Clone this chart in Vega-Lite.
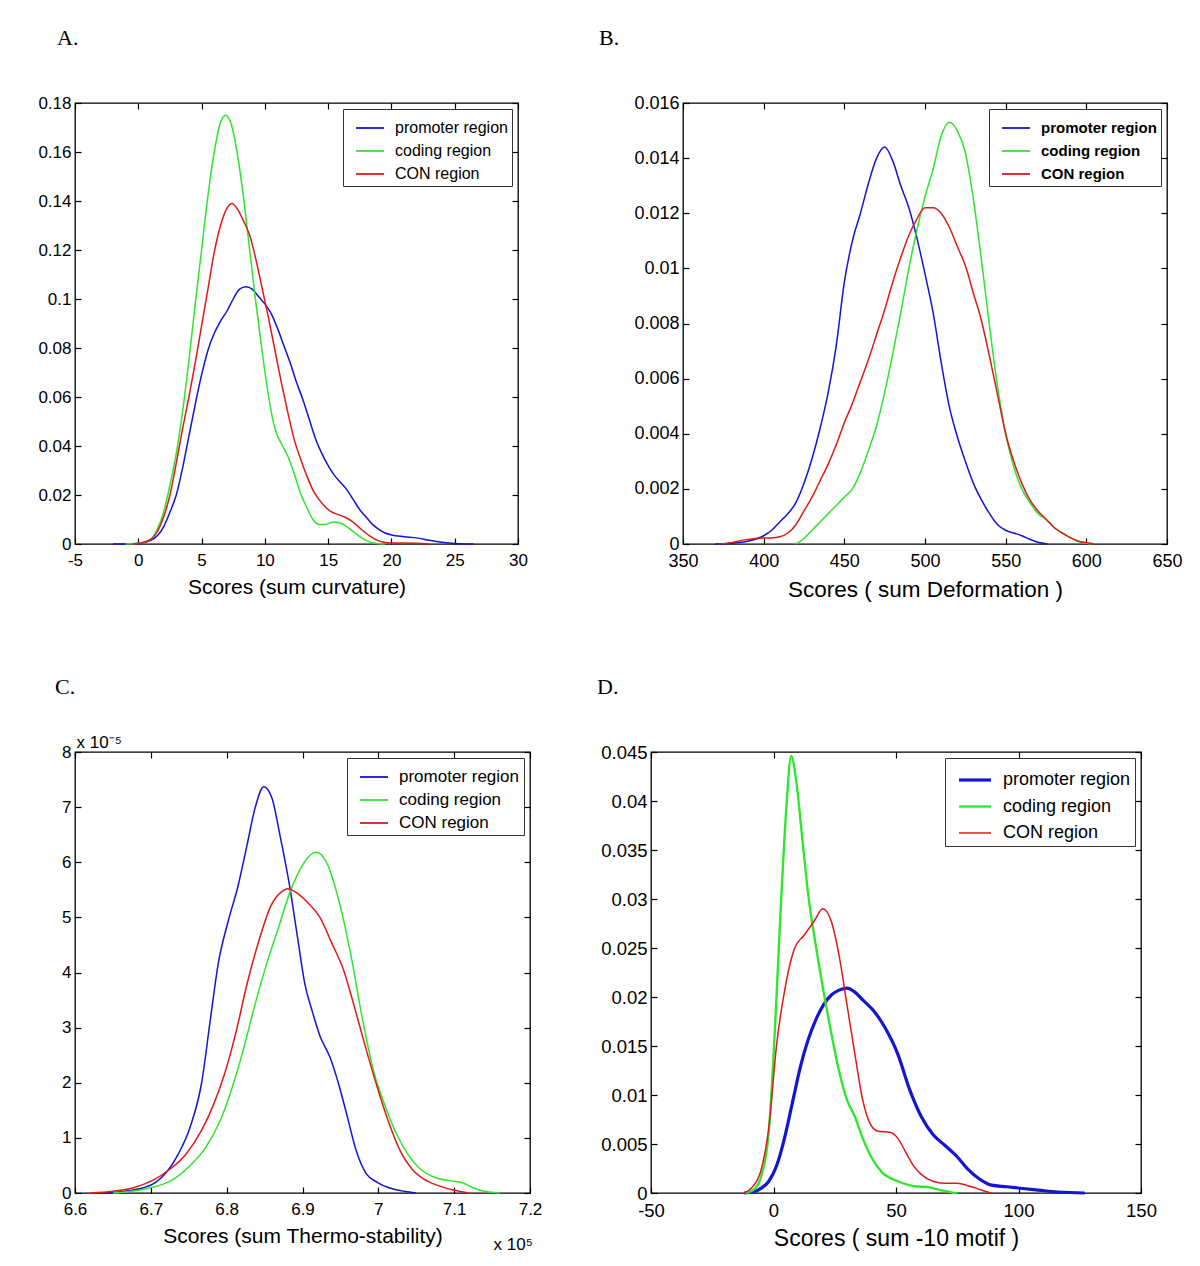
{
  "$schema": "https://vega.github.io/schema/vega-lite/v6.json",
  "background": "white",
  "padding": {"left": 34, "top": 26, "right": 5, "bottom": 5},
  "config": {
    "view": {"stroke": "black", "strokeWidth": 1.3},
    "font": "Liberation Sans",
    "axis": {"grid": false, "domain": false, "ticks": true, "tickSize": -6, "tickColor": "black", "tickWidth": 1.2, "labelFont": "Liberation Sans", "labelFontSize": 17, "labelColor": "black", "labelPadding": 10, "labelFlush": false, "labelOverlap": false, "titleFont": "Liberation Sans", "titleFontWeight": "normal", "titleColor": "black", "titlePadding": 8},
    "axisX": {"labelPadding": 14},
    "title": {"font": "Liberation Serif", "fontSize": 22, "fontWeight": "normal", "anchor": "start", "frame": "group", "baseline": "alphabetic", "color": "black"},
    "legend": {"orient": "top-right", "offset": 6, "fillColor": "white", "strokeColor": "#333333", "padding": 4, "symbolType": "stroke", "symbolSize": 784, "symbolStrokeWidth": 1.8, "symbolOffset": 8, "labelOffset": 10, "labelFont": "Liberation Sans", "labelFontSize": 16, "labelColor": "black", "rowPadding": -4}
  },
  "datasets": {
    "A": [
      {"region":"promoter region","score":-2,"density":0},{"region":"promoter region","score":-1,"density":0},{"region":"promoter region","score":0,"density":0.0002},{"region":"promoter region","score":1,"density":0.0015},{"region":"promoter region","score":2,"density":0.007},{"region":"promoter region","score":2.5,"density":0.013},{"region":"promoter region","score":3,"density":0.02},{"region":"promoter region","score":3.5,"density":0.031},{"region":"promoter region","score":4,"density":0.044},{"region":"promoter region","score":4.5,"density":0.057},{"region":"promoter region","score":5,"density":0.069},{"region":"promoter region","score":5.5,"density":0.079},{"region":"promoter region","score":6,"density":0.086},{"region":"promoter region","score":6.5,"density":0.091},{"region":"promoter region","score":7,"density":0.095},{"region":"promoter region","score":7.5,"density":0.1},{"region":"promoter region","score":8,"density":0.104},{"region":"promoter region","score":8.5,"density":0.105},{"region":"promoter region","score":9,"density":0.104},{"region":"promoter region","score":9.5,"density":0.101},{"region":"promoter region","score":10,"density":0.098},{"region":"promoter region","score":10.5,"density":0.094},{"region":"promoter region","score":11,"density":0.088},{"region":"promoter region","score":11.5,"density":0.081},{"region":"promoter region","score":12,"density":0.074},{"region":"promoter region","score":12.5,"density":0.066},{"region":"promoter region","score":13,"density":0.059},{"region":"promoter region","score":13.5,"density":0.051},{"region":"promoter region","score":14,"density":0.043},{"region":"promoter region","score":14.5,"density":0.037},{"region":"promoter region","score":15,"density":0.032},{"region":"promoter region","score":15.5,"density":0.028},{"region":"promoter region","score":16,"density":0.025},{"region":"promoter region","score":16.5,"density":0.022},{"region":"promoter region","score":17,"density":0.018},{"region":"promoter region","score":17.5,"density":0.014},{"region":"promoter region","score":18,"density":0.011},{"region":"promoter region","score":18.5,"density":0.008},{"region":"promoter region","score":19,"density":0.006},{"region":"promoter region","score":19.5,"density":0.0045},{"region":"promoter region","score":20,"density":0.0037},{"region":"promoter region","score":21,"density":0.003},{"region":"promoter region","score":22,"density":0.0025},{"region":"promoter region","score":23,"density":0.0015},{"region":"promoter region","score":24,"density":0.0007},{"region":"promoter region","score":25,"density":0.0002},{"region":"promoter region","score":26.5,"density":0},
      {"region":"coding region","score":-1,"density":0},{"region":"coding region","score":0,"density":0.0003},{"region":"coding region","score":1,"density":0.002},{"region":"coding region","score":1.5,"density":0.006},{"region":"coding region","score":2,"density":0.013},{"region":"coding region","score":2.5,"density":0.024},{"region":"coding region","score":3,"density":0.037},{"region":"coding region","score":3.5,"density":0.054},{"region":"coding region","score":4,"density":0.075},{"region":"coding region","score":4.5,"density":0.098},{"region":"coding region","score":5,"density":0.12},{"region":"coding region","score":5.5,"density":0.142},{"region":"coding region","score":6,"density":0.16},{"region":"coding region","score":6.5,"density":0.172},{"region":"coding region","score":6.9,"density":0.175},{"region":"coding region","score":7.3,"density":0.172},{"region":"coding region","score":7.8,"density":0.16},{"region":"coding region","score":8.3,"density":0.142},{"region":"coding region","score":8.8,"density":0.12},{"region":"coding region","score":9.3,"density":0.098},{"region":"coding region","score":9.8,"density":0.078},{"region":"coding region","score":10.3,"density":0.06},{"region":"coding region","score":10.8,"density":0.047},{"region":"coding region","score":11.3,"density":0.041},{"region":"coding region","score":11.8,"density":0.036},{"region":"coding region","score":12.3,"density":0.029},{"region":"coding region","score":12.8,"density":0.021},{"region":"coding region","score":13.3,"density":0.015},{"region":"coding region","score":13.8,"density":0.01},{"region":"coding region","score":14.3,"density":0.008},{"region":"coding region","score":14.8,"density":0.008},{"region":"coding region","score":15.4,"density":0.009},{"region":"coding region","score":16,"density":0.0085},{"region":"coding region","score":16.5,"density":0.007},{"region":"coding region","score":17,"density":0.005},{"region":"coding region","score":17.5,"density":0.003},{"region":"coding region","score":18,"density":0.0015},{"region":"coding region","score":18.5,"density":0.0005},{"region":"coding region","score":19,"density":0.0001},{"region":"coding region","score":19.5,"density":0},
      {"region":"CON region","score":-0.5,"density":0},{"region":"CON region","score":0,"density":0.0002},{"region":"CON region","score":1,"density":0.002},{"region":"CON region","score":1.5,"density":0.005},{"region":"CON region","score":2,"density":0.011},{"region":"CON region","score":2.5,"density":0.02},{"region":"CON region","score":3,"density":0.033},{"region":"CON region","score":3.5,"density":0.047},{"region":"CON region","score":4,"density":0.06},{"region":"CON region","score":4.5,"density":0.074},{"region":"CON region","score":5,"density":0.089},{"region":"CON region","score":5.5,"density":0.104},{"region":"CON region","score":6,"density":0.119},{"region":"CON region","score":6.5,"density":0.13},{"region":"CON region","score":7,"density":0.137},{"region":"CON region","score":7.4,"density":0.139},{"region":"CON region","score":7.8,"density":0.137},{"region":"CON region","score":8.3,"density":0.132},{"region":"CON region","score":8.8,"density":0.126},{"region":"CON region","score":9.3,"density":0.116},{"region":"CON region","score":9.8,"density":0.104},{"region":"CON region","score":10.3,"density":0.092},{"region":"CON region","score":10.8,"density":0.079},{"region":"CON region","score":11.3,"density":0.066},{"region":"CON region","score":11.8,"density":0.054},{"region":"CON region","score":12.3,"density":0.043},{"region":"CON region","score":12.8,"density":0.035},{"region":"CON region","score":13.3,"density":0.028},{"region":"CON region","score":13.8,"density":0.022},{"region":"CON region","score":14.3,"density":0.018},{"region":"CON region","score":14.8,"density":0.015},{"region":"CON region","score":15.3,"density":0.013},{"region":"CON region","score":15.8,"density":0.012},{"region":"CON region","score":16.3,"density":0.011},{"region":"CON region","score":16.8,"density":0.0095},{"region":"CON region","score":17.3,"density":0.0075},{"region":"CON region","score":17.8,"density":0.0052},{"region":"CON region","score":18.3,"density":0.0032},{"region":"CON region","score":18.8,"density":0.0017},{"region":"CON region","score":19.3,"density":0.0008},{"region":"CON region","score":20,"density":0.0004},{"region":"CON region","score":21,"density":0.0004},{"region":"CON region","score":22,"density":0.0003},{"region":"CON region","score":23,"density":0}
    ],
    "B": [
      {"region":"promoter region","score":370,"density":0},{"region":"promoter region","score":380,"density":0.00003},{"region":"promoter region","score":390,"density":0.0001},{"region":"promoter region","score":400,"density":0.0003},{"region":"promoter region","score":405,"density":0.0005},{"region":"promoter region","score":410,"density":0.0008},{"region":"promoter region","score":415,"density":0.0011},{"region":"promoter region","score":420,"density":0.0015},{"region":"promoter region","score":425,"density":0.0022},{"region":"promoter region","score":430,"density":0.0031},{"region":"promoter region","score":435,"density":0.0042},{"region":"promoter region","score":440,"density":0.0055},{"region":"promoter region","score":445,"density":0.0072},{"region":"promoter region","score":450,"density":0.0095},{"region":"promoter region","score":455,"density":0.011},{"region":"promoter region","score":460,"density":0.012},{"region":"promoter region","score":465,"density":0.0131},{"region":"promoter region","score":470,"density":0.014},{"region":"promoter region","score":475,"density":0.0144},{"region":"promoter region","score":480,"density":0.0139},{"region":"promoter region","score":485,"density":0.013},{"region":"promoter region","score":490,"density":0.0122},{"region":"promoter region","score":495,"density":0.0111},{"region":"promoter region","score":500,"density":0.0098},{"region":"promoter region","score":505,"density":0.0084},{"region":"promoter region","score":510,"density":0.0066},{"region":"promoter region","score":515,"density":0.005},{"region":"promoter region","score":520,"density":0.0039},{"region":"promoter region","score":525,"density":0.003},{"region":"promoter region","score":530,"density":0.0022},{"region":"promoter region","score":535,"density":0.0016},{"region":"promoter region","score":540,"density":0.0011},{"region":"promoter region","score":545,"density":0.0007},{"region":"promoter region","score":550,"density":0.0005},{"region":"promoter region","score":555,"density":0.0004},{"region":"promoter region","score":560,"density":0.0003},{"region":"promoter region","score":565,"density":0.00017},{"region":"promoter region","score":570,"density":0.00006},{"region":"promoter region","score":576,"density":0},
      {"region":"coding region","score":420,"density":0},{"region":"coding region","score":425,"density":0.0002},{"region":"coding region","score":430,"density":0.0005},{"region":"coding region","score":435,"density":0.0008},{"region":"coding region","score":440,"density":0.0011},{"region":"coding region","score":445,"density":0.0014},{"region":"coding region","score":450,"density":0.0017},{"region":"coding region","score":455,"density":0.002},{"region":"coding region","score":460,"density":0.0026},{"region":"coding region","score":465,"density":0.0034},{"region":"coding region","score":470,"density":0.0043},{"region":"coding region","score":475,"density":0.0055},{"region":"coding region","score":480,"density":0.0069},{"region":"coding region","score":485,"density":0.0084},{"region":"coding region","score":490,"density":0.01},{"region":"coding region","score":495,"density":0.0114},{"region":"coding region","score":500,"density":0.0126},{"region":"coding region","score":505,"density":0.0136},{"region":"coding region","score":510,"density":0.0148},{"region":"coding region","score":515,"density":0.0153},{"region":"coding region","score":520,"density":0.015},{"region":"coding region","score":525,"density":0.0142},{"region":"coding region","score":530,"density":0.0125},{"region":"coding region","score":535,"density":0.0103},{"region":"coding region","score":540,"density":0.0079},{"region":"coding region","score":545,"density":0.0057},{"region":"coding region","score":550,"density":0.004},{"region":"coding region","score":555,"density":0.0028},{"region":"coding region","score":560,"density":0.002},{"region":"coding region","score":565,"density":0.0015},{"region":"coding region","score":570,"density":0.0011},{"region":"coding region","score":575,"density":0.0009},{"region":"coding region","score":580,"density":0.0006},{"region":"coding region","score":585,"density":0.0004},{"region":"coding region","score":590,"density":0.00023},{"region":"coding region","score":595,"density":0.0001},{"region":"coding region","score":600,"density":0.00003},{"region":"coding region","score":603,"density":0},
      {"region":"CON region","score":372,"density":0},{"region":"CON region","score":380,"density":0.00005},{"region":"CON region","score":388,"density":0.00015},{"region":"CON region","score":395,"density":0.0002},{"region":"CON region","score":400,"density":0.00022},{"region":"CON region","score":405,"density":0.00022},{"region":"CON region","score":410,"density":0.00026},{"region":"CON region","score":415,"density":0.0004},{"region":"CON region","score":420,"density":0.0007},{"region":"CON region","score":425,"density":0.0012},{"region":"CON region","score":430,"density":0.0017},{"region":"CON region","score":435,"density":0.0023},{"region":"CON region","score":440,"density":0.0029},{"region":"CON region","score":445,"density":0.0036},{"region":"CON region","score":450,"density":0.0044},{"region":"CON region","score":455,"density":0.0051},{"region":"CON region","score":460,"density":0.0059},{"region":"CON region","score":465,"density":0.0067},{"region":"CON region","score":470,"density":0.0076},{"region":"CON region","score":475,"density":0.0085},{"region":"CON region","score":480,"density":0.0095},{"region":"CON region","score":485,"density":0.0104},{"region":"CON region","score":490,"density":0.0112},{"region":"CON region","score":495,"density":0.0118},{"region":"CON region","score":500,"density":0.0122},{"region":"CON region","score":505,"density":0.0122},{"region":"CON region","score":510,"density":0.012},{"region":"CON region","score":515,"density":0.0115},{"region":"CON region","score":520,"density":0.0108},{"region":"CON region","score":525,"density":0.0101},{"region":"CON region","score":530,"density":0.0091},{"region":"CON region","score":535,"density":0.0081},{"region":"CON region","score":540,"density":0.0068},{"region":"CON region","score":545,"density":0.0054},{"region":"CON region","score":550,"density":0.004},{"region":"CON region","score":555,"density":0.003},{"region":"CON region","score":560,"density":0.0022},{"region":"CON region","score":565,"density":0.0016},{"region":"CON region","score":570,"density":0.0012},{"region":"CON region","score":575,"density":0.0009},{"region":"CON region","score":580,"density":0.0006},{"region":"CON region","score":585,"density":0.0004},{"region":"CON region","score":590,"density":0.00023},{"region":"CON region","score":595,"density":0.0001},{"region":"CON region","score":600,"density":0.00005},{"region":"CON region","score":605,"density":0}
    ],
    "C": [
      {"region":"promoter region","score":663000,"density":0},{"region":"promoter region","score":665000,"density":1e-7},{"region":"promoter region","score":667000,"density":4e-7},{"region":"promoter region","score":669000,"density":9.5e-7},{"region":"promoter region","score":670600,"density":1.9e-6},{"region":"promoter region","score":672100,"density":3.8e-6},{"region":"promoter region","score":673600,"density":7e-6},{"region":"promoter region","score":675200,"density":1.2e-5},{"region":"promoter region","score":676700,"density":2.0e-5},{"region":"promoter region","score":677900,"density":3.2e-5},{"region":"promoter region","score":678900,"density":4.17e-5},{"region":"promoter region","score":680200,"density":4.93e-5},{"region":"promoter region","score":681500,"density":5.57e-5},{"region":"promoter region","score":682700,"density":6.32e-5},{"region":"promoter region","score":683700,"density":6.96e-5},{"region":"promoter region","score":684900,"density":7.37e-5},{"region":"promoter region","score":686000,"density":7.15e-5},{"region":"promoter region","score":687000,"density":6.51e-5},{"region":"promoter region","score":688300,"density":5.57e-5},{"region":"promoter region","score":689300,"density":4.68e-5},{"region":"promoter region","score":690300,"density":3.8e-5},{"region":"promoter region","score":691300,"density":3.29e-5},{"region":"promoter region","score":692300,"density":2.85e-5},{"region":"promoter region","score":693600,"density":2.47e-5},{"region":"promoter region","score":694800,"density":1.96e-5},{"region":"promoter region","score":695900,"density":1.39e-5},{"region":"promoter region","score":697100,"density":7.6e-6},{"region":"promoter region","score":698400,"density":3.5e-6},{"region":"promoter region","score":699900,"density":1.9e-6},{"region":"promoter region","score":701400,"density":9.5e-7},{"region":"promoter region","score":703400,"density":3e-7},{"region":"promoter region","score":705000,"density":0},
      {"region":"coding region","score":665000,"density":0},{"region":"coding region","score":668000,"density":4e-7},{"region":"coding region","score":670100,"density":1e-6},{"region":"coding region","score":672600,"density":2.2e-6},{"region":"coding region","score":675200,"density":5e-6},{"region":"coding region","score":677200,"density":8.2e-6},{"region":"coding region","score":679200,"density":1.33e-5},{"region":"coding region","score":680700,"density":1.9e-5},{"region":"coding region","score":682200,"density":2.6e-5},{"region":"coding region","score":683700,"density":3.4e-5},{"region":"coding region","score":685300,"density":4.17e-5},{"region":"coding region","score":686800,"density":4.8e-5},{"region":"coding region","score":688300,"density":5.44e-5},{"region":"coding region","score":689800,"density":5.9e-5},{"region":"coding region","score":691800,"density":6.18e-5},{"region":"coding region","score":693300,"density":5.96e-5},{"region":"coding region","score":694800,"density":5.3e-5},{"region":"coding region","score":696400,"density":4.3e-5},{"region":"coding region","score":697900,"density":3.16e-5},{"region":"coding region","score":699400,"density":2.2e-5},{"region":"coding region","score":700900,"density":1.58e-5},{"region":"coding region","score":702400,"density":1.07e-5},{"region":"coding region","score":703900,"density":7e-6},{"region":"coding region","score":705500,"density":4.4e-6},{"region":"coding region","score":707500,"density":2.8e-6},{"region":"coding region","score":709500,"density":2.2e-6},{"region":"coding region","score":711000,"density":1.9e-6},{"region":"coding region","score":712500,"density":9.5e-7},{"region":"coding region","score":714000,"density":3e-7},{"region":"coding region","score":716000,"density":0},
      {"region":"CON region","score":662000,"density":0},{"region":"CON region","score":665000,"density":3e-7},{"region":"CON region","score":667600,"density":9e-7},{"region":"CON region","score":670100,"density":2.2e-6},{"region":"CON region","score":672600,"density":4.4e-6},{"region":"CON region","score":674600,"density":7e-6},{"region":"CON region","score":676700,"density":1.14e-5},{"region":"CON region","score":678200,"density":1.58e-5},{"region":"CON region","score":679700,"density":2.15e-5},{"region":"CON region","score":681200,"density":2.9e-5},{"region":"CON region","score":682700,"density":3.8e-5},{"region":"CON region","score":684300,"density":4.6e-5},{"region":"CON region","score":685800,"density":5.2e-5},{"region":"CON region","score":687300,"density":5.47e-5},{"region":"CON region","score":688000,"density":5.52e-5},{"region":"CON region","score":689300,"density":5.44e-5},{"region":"CON region","score":690800,"density":5.25e-5},{"region":"CON region","score":692300,"density":5.0e-5},{"region":"CON region","score":693800,"density":4.55e-5},{"region":"CON region","score":695400,"density":4.05e-5},{"region":"CON region","score":696900,"density":3.35e-5},{"region":"CON region","score":698400,"density":2.6e-5},{"region":"CON region","score":699900,"density":1.9e-5},{"region":"CON region","score":701400,"density":1.27e-5},{"region":"CON region","score":702900,"density":7.6e-6},{"region":"CON region","score":704400,"density":4.4e-6},{"region":"CON region","score":706000,"density":2.5e-6},{"region":"CON region","score":708000,"density":1.3e-6},{"region":"CON region","score":710000,"density":5e-7},{"region":"CON region","score":712000,"density":0}
    ],
    "D": [
      {"region":"promoter region","score":-12,"density":0},{"region":"promoter region","score":-8.2,"density":0.0001},{"region":"promoter region","score":-5,"density":0.0005},{"region":"promoter region","score":-1.9,"density":0.0012},{"region":"promoter region","score":1.3,"density":0.0028},{"region":"promoter region","score":4.5,"density":0.0056},{"region":"promoter region","score":7.7,"density":0.0092},{"region":"promoter region","score":10.9,"density":0.0128},{"region":"promoter region","score":14.1,"density":0.0156},{"region":"promoter region","score":17.3,"density":0.0177},{"region":"promoter region","score":20.4,"density":0.0192},{"region":"promoter region","score":23.6,"density":0.0202},{"region":"promoter region","score":26.8,"density":0.0207},{"region":"promoter region","score":30,"density":0.0209},{"region":"promoter region","score":33.2,"density":0.0205},{"region":"promoter region","score":36.4,"density":0.0197},{"region":"promoter region","score":41.2,"density":0.0185},{"region":"promoter region","score":45.9,"density":0.0167},{"region":"promoter region","score":50.7,"density":0.0142},{"region":"promoter region","score":55.5,"density":0.0106},{"region":"promoter region","score":60.3,"density":0.0078},{"region":"promoter region","score":65,"density":0.006},{"region":"promoter region","score":69.8,"density":0.0049},{"region":"promoter region","score":74.6,"density":0.0038},{"region":"promoter region","score":79.4,"density":0.0024},{"region":"promoter region","score":84.2,"density":0.0014},{"region":"promoter region","score":89,"density":0.0008},{"region":"promoter region","score":95.3,"density":0.00064},{"region":"promoter region","score":101.7,"density":0.00046},{"region":"promoter region","score":108,"density":0.0003},{"region":"promoter region","score":116,"density":0.0001},{"region":"promoter region","score":127,"density":0},
      {"region":"coding region","score":-11.4,"density":0},{"region":"coding region","score":-8.2,"density":0.0003},{"region":"coding region","score":-5,"density":0.0017},{"region":"coding region","score":-1.9,"density":0.0063},{"region":"coding region","score":0.5,"density":0.0163},{"region":"coding region","score":2.9,"density":0.0288},{"region":"coding region","score":5.3,"density":0.0395},{"region":"coding region","score":7.2,"density":0.0446},{"region":"coding region","score":9.3,"density":0.042},{"region":"coding region","score":11.7,"density":0.0363},{"region":"coding region","score":14.1,"density":0.0306},{"region":"coding region","score":17.3,"density":0.0252},{"region":"coding region","score":20.4,"density":0.0206},{"region":"coding region","score":23.6,"density":0.0163},{"region":"coding region","score":26.8,"density":0.0124},{"region":"coding region","score":30,"density":0.0095},{"region":"coding region","score":33.2,"density":0.0078},{"region":"coding region","score":36.4,"density":0.0056},{"region":"coding region","score":39.6,"density":0.0038},{"region":"coding region","score":44.3,"density":0.0021},{"region":"coding region","score":50.7,"density":0.0012},{"region":"coding region","score":57.1,"density":0.0007},{"region":"coding region","score":63.5,"density":0.00057},{"region":"coding region","score":68.2,"density":0.0003},{"region":"coding region","score":73,"density":0.00004},{"region":"coding region","score":75,"density":0},
      {"region":"CON region","score":-12,"density":0},{"region":"CON region","score":-9,"density":0.0005},{"region":"CON region","score":-5,"density":0.0024},{"region":"CON region","score":-1.9,"density":0.0067},{"region":"CON region","score":1.3,"density":0.0152},{"region":"CON region","score":4.5,"density":0.0206},{"region":"CON region","score":8.5,"density":0.0249},{"region":"CON region","score":12.5,"density":0.0263},{"region":"CON region","score":16.5,"density":0.0277},{"region":"CON region","score":20.1,"density":0.029},{"region":"CON region","score":23.6,"density":0.0277},{"region":"CON region","score":26.8,"density":0.0242},{"region":"CON region","score":30,"density":0.0192},{"region":"CON region","score":33.2,"density":0.0142},{"region":"CON region","score":36.4,"density":0.0095},{"region":"CON region","score":39.6,"density":0.007},{"region":"CON region","score":42.7,"density":0.0063},{"region":"CON region","score":47.5,"density":0.0062},{"region":"CON region","score":50.7,"density":0.0056},{"region":"CON region","score":53.9,"density":0.0042},{"region":"CON region","score":57.1,"density":0.0028},{"region":"CON region","score":60.3,"density":0.0019},{"region":"CON region","score":65,"density":0.0012},{"region":"CON region","score":69.8,"density":0.001},{"region":"CON region","score":74.6,"density":0.001},{"region":"CON region","score":78.6,"density":0.0008},{"region":"CON region","score":82.6,"density":0.0005},{"region":"CON region","score":87.4,"density":0.0001},{"region":"CON region","score":89,"density":0}
    ]
  },
  "spacing": 73,
  "resolve": {"scale": {"color": "independent", "strokeWidth": "independent"}, "legend": {"color": "independent", "strokeWidth": "independent"}},
  "vconcat": [
    {
      "spacing": 69,
      "resolve": {"scale": {"color": "independent", "strokeWidth": "independent"}, "legend": {"color": "independent", "strokeWidth": "independent"}},
      "hconcat": [
        {
          "width": 443, "height": 441,
          "title": {"text": "A.", "dx": -18, "offset": 44},
          "data": {"name": "A"},
          "layer": [
            {"mark": {"type": "line", "interpolate": "monotone", "strokeWidth": 1.5},
             "encoding": {
               "x": {"field": "score", "type": "quantitative", "scale": {"domain": [-5, 30], "nice": false, "zero": false},
                     "axis": {"values": [-5,0,5,10,15,20,25,30], "labelExpr": "'' + datum.value", "title": "Scores (sum curvature)", "titleFontSize": 21}},
               "y": {"field": "density", "type": "quantitative", "scale": {"domain": [0, 0.18], "nice": false, "zero": false},
                     "axis": {"values": [0,0.02,0.04,0.06,0.08,0.1,0.12,0.14,0.16,0.18], "labelExpr": "'' + datum.value", "title": null, "minExtent": 38}},
               "color": {"field": "region", "type": "nominal", "scale": {"domain": ["promoter region","coding region","CON region"], "range": ["#1414d4","#2ee62e","#e01919"]}, "legend": {"title": null}}
             }},
            {"mark": {"type": "point", "opacity": 0},
             "encoding": {
               "x": {"field": "score", "type": "quantitative", "axis": {"orient": "top", "values": [-5,0,5,10,15,20,25,30], "labels": false, "title": null}},
               "y": {"field": "density", "type": "quantitative", "axis": {"orient": "right", "values": [0,0.02,0.04,0.06,0.08,0.1,0.12,0.14,0.16,0.18], "labels": false, "title": null, "minExtent": 0}}
             }}
          ],
          "resolve": {"axis": {"x": "independent", "y": "independent"}}
        },
        {
          "width": 484, "height": 441,
          "title": {"text": "B.", "dx": -84, "offset": 44},
          "data": {"name": "B"},
          "layer": [
            {"mark": {"type": "line", "interpolate": "monotone", "strokeWidth": 1.5},
             "encoding": {
               "x": {"field": "score", "type": "quantitative", "scale": {"domain": [350, 650], "nice": false, "zero": false},
                     "axis": {"values": [350,400,450,500,550,600,650], "labelExpr": "'' + datum.value", "labelFontSize": 18, "title": "Scores ( sum Deformation )", "titleFontSize": 22.5}},
               "y": {"field": "density", "type": "quantitative", "scale": {"domain": [0, 0.016], "nice": false, "zero": false},
                     "axis": {"values": [0,0.002,0.004,0.006,0.008,0.01,0.012,0.014,0.016], "labelExpr": "'' + datum.value", "labelFontSize": 18, "title": null, "minExtent": 38}},
               "color": {"field": "region", "type": "nominal", "scale": {"domain": ["promoter region","coding region","CON region"], "range": ["#1414d4","#2ee62e","#e01919"]}, "legend": {"title": null, "labelFontSize": 15, "labelFontWeight": "bold", "rowPadding": -7}}
             }},
            {"mark": {"type": "point", "opacity": 0},
             "encoding": {
               "x": {"field": "score", "type": "quantitative", "axis": {"orient": "top", "values": [350,400,450,500,550,600,650], "labels": false, "title": null}},
               "y": {"field": "density", "type": "quantitative", "axis": {"orient": "right", "values": [0,0.002,0.004,0.006,0.008,0.01,0.012,0.014,0.016], "labels": false, "title": null, "minExtent": 0}}
             }}
          ],
          "resolve": {"axis": {"x": "independent", "y": "independent"}}
        }
      ]
    },
    {
      "spacing": 53,
      "resolve": {"scale": {"color": "independent", "strokeWidth": "independent"}, "legend": {"color": "independent", "strokeWidth": "independent"}},
      "hconcat": [
        {
          "width": 455, "height": 441,
          "title": {"text": "C.", "dx": -20, "offset": 34},
          "data": {"name": "C"},
          "layer": [
            {"mark": {"type": "line", "interpolate": "monotone", "strokeWidth": 1.5},
             "encoding": {
               "x": {"field": "score", "type": "quantitative", "scale": {"domain": [660000, 720000], "nice": false, "zero": false},
                     "axis": {"values": [660000,670000,680000,690000,700000,710000,720000], "labelExpr": "'' + datum.value/100000", "title": "Scores (sum Thermo-stability)", "titleFontSize": 21}},
               "y": {"field": "density", "type": "quantitative", "scale": {"domain": [0, 8e-5], "nice": false, "zero": false},
                     "axis": {"values": [0,1e-5,2e-5,3e-5,4e-5,5e-5,6e-5,7e-5,8e-5], "labelExpr": "'' + round(datum.value*100000)", "title": "x 10⁻⁵", "titleAngle": 0, "titleAlign": "left", "titleBaseline": "alphabetic", "titleX": 1, "titleY": -5, "titleFontSize": 17, "minExtent": 40}},
               "color": {"field": "region", "type": "nominal", "scale": {"domain": ["promoter region","coding region","CON region"], "range": ["#1414d4","#2ee62e","#e01919"]}, "legend": {"title": null, "labelFontSize": 17}}
             }},
            {"mark": {"type": "point", "opacity": 0},
             "encoding": {
               "x": {"field": "score", "type": "quantitative", "axis": {"orient": "top", "values": [660000,670000,680000,690000,700000,710000,720000], "labels": false, "title": null}},
               "y": {"field": "density", "type": "quantitative", "axis": {"orient": "right", "values": [0,1e-5,2e-5,3e-5,4e-5,5e-5,6e-5,7e-5,8e-5], "labels": false, "title": "x 10⁵", "titleAngle": 0, "titleAlign": "left", "titleBaseline": "alphabetic", "titleX": -37, "titleY": 497, "titleFontSize": 17, "minExtent": 0}}
             }}
          ],
          "resolve": {"axis": {"x": "independent", "y": "independent"}}
        },
        {
          "width": 490, "height": 441,
          "title": {"text": "D.", "dx": -54, "offset": 44},
          "data": {"name": "D"},
          "layer": [
            {"mark": {"type": "line", "interpolate": "monotone"},
             "encoding": {
               "x": {"field": "score", "type": "quantitative", "scale": {"domain": [-50, 150], "nice": false, "zero": false},
                     "axis": {"values": [-50,0,50,100,150], "labelExpr": "'' + datum.value", "labelFontSize": 18.5, "title": "Scores ( sum -10 motif )", "titleFontSize": 23}},
               "y": {"field": "density", "type": "quantitative", "scale": {"domain": [0, 0.045], "nice": false, "zero": false},
                     "axis": {"values": [0,0.005,0.01,0.015,0.02,0.025,0.03,0.035,0.04,0.045], "labelExpr": "'' + datum.value", "labelFontSize": 18.5, "title": null, "minExtent": 38}},
               "color": {"field": "region", "type": "nominal", "scale": {"domain": ["promoter region","coding region","CON region"], "range": ["#1414d4","#2ee62e","#e01919"]}, "legend": {"title": null, "labelFontSize": 18, "symbolSize": 1024, "rowPadding": -9}},
               "strokeWidth": {"field": "region", "type": "nominal", "scale": {"domain": ["promoter region","coding region","CON region"], "range": [3.2, 1.5, 1.5]}, "legend": {"title": null, "labelFontSize": 18, "symbolSize": 1024, "rowPadding": -9}}
             }},
            {"mark": {"type": "point", "opacity": 0},
             "encoding": {
               "x": {"field": "score", "type": "quantitative", "axis": {"orient": "top", "values": [-50,0,50,100,150], "labels": false, "title": null}},
               "y": {"field": "density", "type": "quantitative", "axis": {"orient": "right", "values": [0,0.005,0.01,0.015,0.02,0.025,0.03,0.035,0.04,0.045], "labels": false, "title": null, "minExtent": 0}}
             }}
          ],
          "resolve": {"axis": {"x": "independent", "y": "independent"}}
        }
      ]
    }
  ]
}
